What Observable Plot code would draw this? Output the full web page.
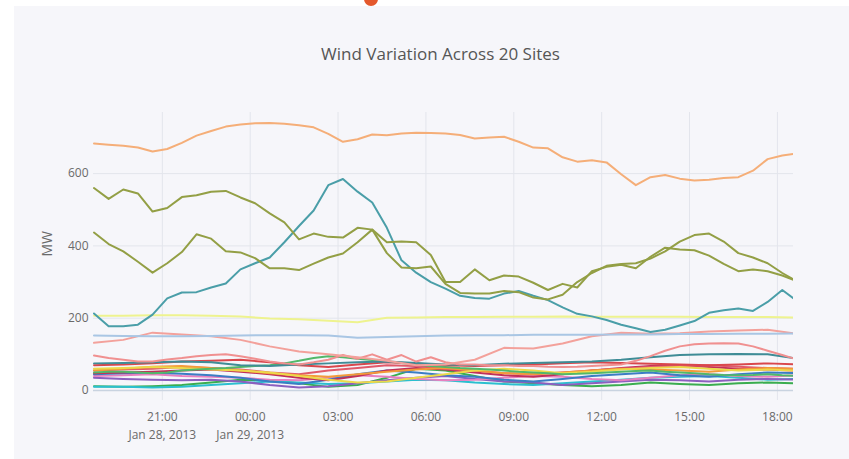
<!DOCTYPE html>
<html>
<head>
<meta charset="utf-8">
<script src="https://cdn.jsdelivr.net/npm/d3@7"></script>
<script src="https://cdn.jsdelivr.net/npm/@observablehq/plot@0.6"></script>
<style>
  html, body { margin: 0; padding: 0; background: #ffffff; }
  #wrap { position: relative; width: 849px; height: 459px; overflow: hidden; font-family: "Open Sans", sans-serif; }
  #panel { position: absolute; left: 14px; top: 6px; right: 0; bottom: 0; background: #f6f6fa; }
  #logo { position: absolute; left: 364px; top: -8px; width: 14px; height: 14px; border-radius: 50%; background: #e4582c; }
  #chart { position: absolute; left: 0; top: 0; }
</style>
</head>
<body>
<div id="wrap">
  <div id="panel"></div>
  <div id="logo"></div>
  <div id="chart"></div>
</div>
<script>
// ---- Data (MW) ----
const title = "Wind Variation Across 20 Sites";
const yLabel = "MW";
const startTime = Date.UTC(2013, 0, 28, 18, 40);   // first sample, Jan 28 2013 18:40
const xDomain = [new Date(Date.UTC(2013, 0, 28, 18, 39)), new Date(Date.UTC(2013, 0, 29, 18, 33))];
const xTicks = [
  Date.UTC(2013,0,28,21), Date.UTC(2013,0,29,0), Date.UTC(2013,0,29,3), Date.UTC(2013,0,29,6),
  Date.UTC(2013,0,29,9), Date.UTC(2013,0,29,12), Date.UTC(2013,0,29,15), Date.UTC(2013,0,29,18)
].map(d => new Date(d));
const xTickLabels = ["21:00\nJan 28, 2013", "00:00\nJan 29, 2013", "03:00", "06:00", "09:00", "12:00", "15:00", "18:00"];
const yTicks = [0, 200, 400, 600];

// 30-minute series
const siteOrange = [683,680,677,672,661,668,685,705,718,730,736,739,740,738,734,728,710,688,695,708,706,711,713,712,711,707,697,700,702,688,672,670,645,633,637,631,598,568,590,596,586,581,583,588,590,608,640,650,656];
const siteOliveA = [560,530,556,545,495,505,535,540,550,552,534,518,490,465,418,434,425,423,450,445,410,412,410,375,300,300,335,305,318,315,298,278,295,285,330,342,348,338,370,395,390,388,373,350,330,335,330,318,302];
const siteOliveB = [437,405,385,356,326,352,383,432,420,385,382,366,338,338,333,351,368,379,410,445,380,340,338,343,295,270,268,268,275,272,257,252,265,300,325,345,350,352,365,385,412,430,434,412,380,368,352,325,302];
const siteTeal   = [213,178,178,182,210,255,271,272,285,296,335,352,368,410,455,498,568,585,550,520,450,360,326,300,282,262,256,254,268,275,262,250,230,212,205,195,182,172,162,168,180,192,215,222,227,220,245,278,248];
const siteSalmon2 = [97,90,85,80,80,86,90,95,98,100,95,88,80,75,72,78,85,98,88,100,85,98,80,92,78,72,72,70,70,68,68,66,65,66,68,70,72,82,95,110,122,128,130,131,130,122,110,98,86];
const siteGreen2  = [50,52,52,50,48,50,55,58,60,62,65,68,70,75,82,90,95,92,88,84,80,76,72,68,65,62,60,58,55,52,50,48,45,46,48,50,52,54,55,52,50,48,45,43,42,43,45,42,40];

// hourly series
const siteYellow    = [207,207,208,208,207,205,199,197,193,189,201,202,203,203,204,204,205,204,204,204,204,203,203,203,202];
const siteLightBlue = [152,151,150,150,151,152,153,153,152,146,148,150,152,153,153,154,154,154,155,155,156,156,157,157,158];
const siteSalmon1   = [132,140,160,155,150,140,122,108,100,92,82,70,72,85,118,116,130,150,160,157,158,163,166,168,157];
const siteDarkTeal  = [75,76,78,80,78,70,68,72,75,78,80,76,72,70,74,76,78,80,85,92,98,100,101,100,88];
const siteRed       = [70,72,75,80,82,85,78,70,65,72,78,75,70,68,70,72,75,78,76,74,72,70,72,75,72];
const siteCrimson   = [55,58,60,65,62,58,50,45,55,62,70,68,60,55,48,45,50,55,60,65,68,70,66,62,60];
const sitePurple    = [35,32,30,28,30,25,15,8,12,20,28,35,40,32,25,22,15,20,25,30,28,25,30,32,30];
const siteBlue      = [45,48,50,46,42,35,25,18,30,45,55,50,42,38,30,25,32,40,45,50,42,38,45,50,48];
const siteGreen1    = [12,10,12,15,22,30,28,20,10,15,35,60,55,40,25,20,15,12,15,22,18,15,20,22,20];
const siteGold      = [60,62,65,62,58,55,50,40,30,22,25,35,45,55,60,55,48,52,58,62,65,60,55,58,55];
const siteAmber     = [55,60,66,68,62,55,48,42,38,45,52,58,62,55,48,45,50,55,60,58,55,52,58,62,60];
const sitePink      = [40,42,45,40,38,35,30,28,35,42,38,32,28,30,35,40,38,32,28,35,42,45,40,38,42];
const siteCyan      = [10,10,8,10,15,20,25,22,18,20,25,30,28,22,18,15,20,25,30,35,38,40,35,30,32];
const siteMagenta   = [48,50,52,55,58,52,45,35,28,40,55,62,58,50,42,38,45,55,62,68,70,65,60,58,55];

const seriesValues = [siteGreen1, siteCyan, sitePurple, sitePink, siteBlue, siteMagenta, siteCrimson, siteAmber, siteGold, siteGreen2, siteRed, siteDarkTeal, siteSalmon2, siteSalmon1, siteLightBlue, siteYellow, siteTeal, siteOliveB, siteOliveA, siteOrange];
const seriesStepMinutes = [60,60,60,60,60,60,60,60,60,30,60,60,30,60,60,60,30,30,30,30];
const seriesColors = ["#3aad4f","#2bbfcf","#8c5fbf","#e77fc0","#3b7dc4","#c0305a","#e05a6a","#f39a3a","#ecd94a","#52b86a","#d9474c","#3f8c96","#f09090","#f3a19b","#a9c6e4","#eef38f","#4a9ea8","#939f45","#939f45","#f5ae78"];

// ---- Build tables ----
const tables = seriesValues.map((vals, s) =>
  vals.map((v, i) => ({time: new Date(startTime + i * seriesStepMinutes[s] * 60000), value: v}))
);

const gridColor = "#e3e5ec";
const textColor = "#6a6a6a";

const chart = Plot.plot({
  width: 849,
  height: 459,
  marginLeft: 93,
  marginRight: 56,
  marginTop: 112,
  marginBottom: 59,
  style: {background: "transparent", fontFamily: "'Open Sans', sans-serif", fontSize: "12px", color: textColor},
  x: {type: "utc", domain: xDomain},
  y: {domain: [-27.7, 769]},
  marks: [
    Plot.gridX(xTicks, {stroke: gridColor, strokeOpacity: 1, strokeWidth: 1}),
    Plot.gridY(yTicks.filter(d => d !== 0), {stroke: gridColor, strokeOpacity: 1, strokeWidth: 1}),
    Plot.ruleY([0], {stroke: "#c9d3e0", strokeWidth: 1.5}),
    ...tables.map((t, s) => Plot.line(t, {x: "time", y: "value", stroke: seriesColors[s], strokeWidth: 2, clip: true})),
    Plot.axisX(xTicks, {tickSize: 0, tickPadding: 8, fontSize: 12, fill: textColor, lineHeight: 1.5,
      tickFormat: (d, i) => xTickLabels[i], label: null}),
    Plot.axisY(yTicks, {tickSize: 0, tickPadding: 5, fontSize: 12, fill: textColor, label: null}),
    Plot.text([yLabel], {text: d => d, frameAnchor: "left", dx: -46, rotate: -90, fontSize: 14, fill: textColor}),
    Plot.text([title], {text: d => d, frameAnchor: "top", dx: -3, dy: -65, fontSize: 17, fill: "#555555"})
  ]
});
document.getElementById("chart").appendChild(chart);
</script>
</body>
</html>
